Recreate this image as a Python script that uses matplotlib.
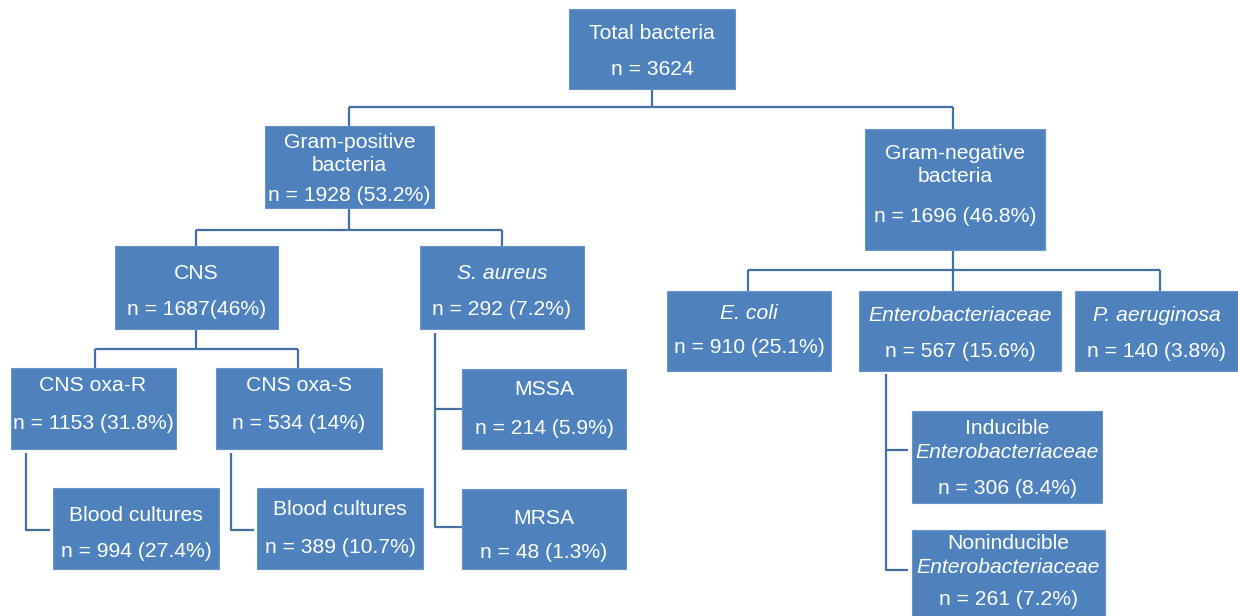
"""
Tree diagram of bacterial isolates (counts and shares)
"""

import matplotlib.pyplot as plt
from matplotlib.patches import Rectangle

plt.rcParams['font.family'] = ['Liberation Sans', 'DejaVu Sans']

# node names, labels (each line: text, italic?) and counts
nodes = ["total", "gpos", "gneg", "cns", "saureus", "ecoli", "entero", "paer",
         "oxar", "oxas", "mssa", "blood_r", "blood_s", "mrsa", "induc", "noninduc"]
labels = [
    [("Total bacteria", False), ("n = 3624", False)],
    [("Gram-positive", False), ("bacteria", False), ("n = 1928 (53.2%)", False)],
    [("Gram-negative", False), ("bacteria", False), ("n = 1696 (46.8%)", False)],
    [("CNS", False), ("n = 1687(46%)", False)],
    [("S. aureus", True), ("n = 292 (7.2%)", False)],
    [("E. coli", True), ("n = 910 (25.1%)", False)],
    [("Enterobacteriaceae", True), ("n = 567 (15.6%)", False)],
    [("P. aeruginosa", True), ("n = 140 (3.8%)", False)],
    [("CNS oxa-R", False), ("n = 1153 (31.8%)", False)],
    [("CNS oxa-S", False), ("n = 534 (14%)", False)],
    [("MSSA", False), ("n = 214 (5.9%)", False)],
    [("Blood cultures", False), ("n = 994 (27.4%)", False)],
    [("Blood cultures", False), ("n = 389 (10.7%)", False)],
    [("MRSA", False), ("n = 48 (1.3%)", False)],
    [("Inducible", False), ("Enterobacteriaceae", True), ("n = 306 (8.4%)", False)],
    [("Noninducible", False), ("Enterobacteriaceae", True), ("n = 261 (7.2%)", False)],
]

# layout in pixel units: box (x0, y0, x1, y1) and text line y positions
boxes = {
    "total": (569, 9, 735, 89), "gpos": (265, 126, 434, 208),
    "gneg": (865, 129, 1045, 250), "cns": (115, 246, 278, 329),
    "saureus": (420, 246, 584, 329), "ecoli": (667, 291, 831, 371),
    "entero": (859, 291, 1061, 371), "paer": (1075, 291, 1238, 371),
    "oxar": (11, 368, 176, 449), "oxas": (216, 368, 382, 449),
    "mssa": (462, 369, 626, 449), "blood_r": (53, 488, 219, 569),
    "blood_s": (257, 488, 423, 569), "mrsa": (462, 489, 626, 569),
    "induc": (912, 411, 1102, 503), "noninduc": (912, 530, 1105, 620),
}
line_y = {
    "total": [32, 68], "gpos": [141, 164, 194], "gneg": [152, 175, 215],
    "cns": [272, 308], "saureus": [272, 308], "ecoli": [312, 346],
    "entero": [314, 350], "paer": [314, 350], "oxar": [384, 422],
    "oxas": [384, 422], "mssa": [388, 427], "blood_r": [514, 550],
    "blood_s": [508, 546], "mrsa": [517, 551], "induc": [427, 451, 487],
    "noninduc": [542, 566, 598],
}
text_x = {"oxar": 93, "blood_s": 340}

# connector polylines
connectors = [
    ([652, 652], [89, 107]), ([349, 953], [107, 107]),
    ([349, 349], [107, 126]), ([953, 953], [107, 129]),
    ([349, 349], [208, 230]), ([196, 502], [230, 230]),
    ([196, 196], [230, 246]), ([502, 502], [230, 246]),
    ([953, 953], [250, 270]), ([748, 1160], [270, 270]),
    ([748, 748], [270, 291]), ([953, 953], [270, 291]), ([1160, 1160], [270, 291]),
    ([196, 196], [329, 349]), ([95, 298], [349, 349]),
    ([95, 95], [349, 368]), ([298, 298], [349, 368]),
    ([435, 435, 462], [333, 527, 527]), ([435, 462], [409, 409]),
    ([26, 26, 50], [453, 530, 530]), ([231, 231, 254], [453, 530, 530]),
    ([886, 886, 908], [374, 570, 570]), ([886, 908], [450, 450]),
]

box_color = '#4f81bd'
line_color = '#4470a6'

fig = plt.figure(figsize=(12.38, 6.16), dpi=100)
ax = fig.add_axes([0, 0, 1, 1])
ax.set_xlim(0, 1238)
ax.set_ylim(616, 0)
ax.axis('off')

for xs, ys in connectors:
    ax.plot(xs, ys, color=line_color, lw=1.6, solid_capstyle='butt', zorder=1)

for name, lab in zip(nodes, labels):
    x0, y0, x1, y1 = boxes[name]
    ax.add_patch(Rectangle((x0, y0), x1 - x0, y1 - y0, facecolor=box_color,
                           edgecolor='#6b95c9', lw=0.8, zorder=2))
    cx = text_x.get(name, (x0 + x1) / 2)
    for (txt, ital), y in zip(lab, line_y[name]):
        ax.text(cx, y + 1.5, txt, ha='center', va='center', color='white',
                fontsize=15.2, style='italic' if ital else 'normal', zorder=3)

fig.savefig("out.png", dpi=100)
plt.close(fig)
